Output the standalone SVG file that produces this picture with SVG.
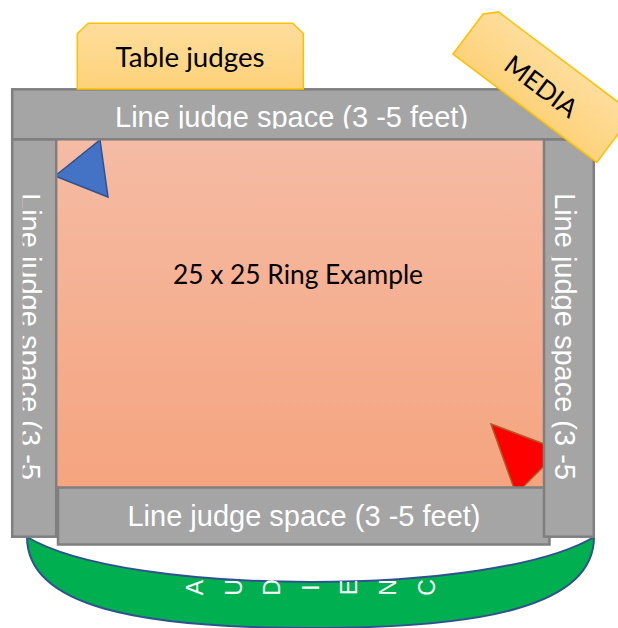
<svg xmlns="http://www.w3.org/2000/svg" width="618" height="628" viewBox="0 0 618 628">
  <defs>
    <linearGradient id="ringGrad" x1="0" y1="0" x2="0" y2="1">
      <stop offset="0" stop-color="#f5bba4"/>
      <stop offset="1" stop-color="#f5a47f"/>
    </linearGradient>
    <linearGradient id="yelGrad" x1="0" y1="0" x2="0" y2="1">
      <stop offset="0" stop-color="#fedd9c"/>
      <stop offset="1" stop-color="#fdd27a"/>
    </linearGradient>
    <clipPath id="clipTop"><rect x="12" y="89" width="582" height="39.5"/></clipPath>
    <clipPath id="clipLeft"><rect x="22.6" y="140" width="34" height="397"/></clipPath>
    <clipPath id="clipRight"><rect x="551.5" y="140" width="42" height="397"/></clipPath>
  </defs>
  <style>
    .bar { fill: #a5a5a5; stroke: #7f7f7f; stroke-width: 2.5; }
    .lj { font-family: "Liberation Sans", Arial, sans-serif; font-size: 29px; fill: #ffffff; }
    .cal { font-family: Lato, "Open Sans", sans-serif; font-size: 26px; fill: #000000; }
    .yel { fill: url(#yelGrad); stroke: #ffc000; stroke-width: 1.5; }
    .aud { font-family: "Liberation Sans", Arial, sans-serif; font-size: 23px; fill: #ffffff; }
  </style>

  <g id="audience">
    <path d="M27,537 C127,597 494,597 594,537 C594,607 481,628 310.5,628 C140,628 27,607 27,537 Z" fill="#00b050" stroke="#2f528f" stroke-width="2"/>
    <g class="aud" text-anchor="middle">
      <text transform="translate(203,587.5) rotate(-90)">A</text>
      <text transform="translate(241.6,587.5) rotate(-90)">U</text>
      <text transform="translate(280.2,587.5) rotate(-90)">D</text>
      <text transform="translate(318.8,587.5) rotate(-90)">I</text>
      <text transform="translate(357.4,587.5) rotate(-90)">E</text>
      <text transform="translate(396,587.5) rotate(-90)">N</text>
      <text transform="translate(434.6,587.5) rotate(-90)">C</text>
    </g>
  </g>

  <g id="ring">
    <rect x="57" y="139" width="486" height="348" fill="url(#ringGrad)"/>
    <text class="cal" x="298" y="284" text-anchor="middle" textLength="250" lengthAdjust="spacingAndGlyphs">25 x 25 Ring Example</text>
  </g>

  <g id="blue-corner">
    <polygon points="55,176 100,140 108,197" fill="#4472c4" stroke="#2f528f" stroke-width="1.5"/>
  </g>
  <g id="red-corner">
    <polygon points="491,424 560,450 516,494" fill="#ff0000" stroke="#ae5a21" stroke-width="1.5"/>
  </g>

  <g id="top-line-judge">
    <rect class="bar" x="12.2" y="89.3" width="581.6" height="50"/>
    <text class="lj" x="115" y="127" clip-path="url(#clipTop)">Line judge space (3 -5 feet)</text>
  </g>

  <g id="left-line-judge">
    <rect class="bar" x="12.2" y="139.5" width="44" height="397.2"/>
    <g clip-path="url(#clipLeft)">
      <text class="lj" transform="translate(19.5,193) rotate(90)">Line judge space (3 -5</text>
    </g>
  </g>

  <g id="bottom-line-judge">
    <rect class="bar" x="58" y="487.5" width="491.5" height="57"/>
    <text class="lj" x="304" y="526" text-anchor="middle">Line judge space (3 -5 feet)</text>
  </g>

  <g id="right-line-judge">
    <rect class="bar" x="544" y="139.5" width="49.8" height="397.2"/>
    <g clip-path="url(#clipRight)">
      <text class="lj" transform="translate(554.5,193) rotate(90)">Line judge space (3 -5</text>
    </g>
  </g>

  <g id="table-judges">
    <path class="yel" d="M77.3,33.5 L88.3,23.3 L292.7,23.3 L303.3,33.5 L303.3,89 L77.3,89 Z"/>
    <text class="cal" x="190" y="67" text-anchor="middle" textLength="149" lengthAdjust="spacingAndGlyphs">Table judges</text>
  </g>

  <g id="media" transform="translate(453,54) rotate(37)">
    <path class="yel" d="M0,0 L0,-50 L11,-61 L180,-61 L180,0 Z"/>
    <text class="cal" x="90" y="-18" text-anchor="middle">MEDIA</text>
  </g>
</svg>
